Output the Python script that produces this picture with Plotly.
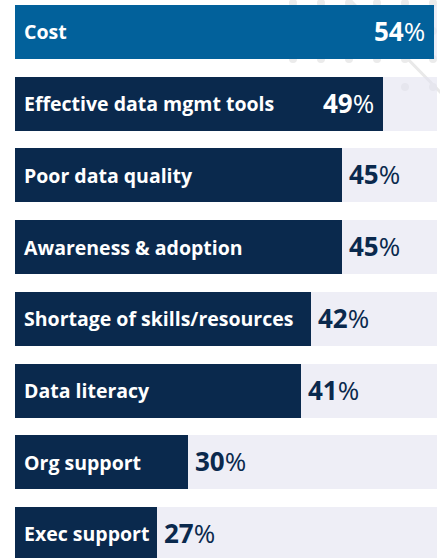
import plotly.graph_objects as go

# ---- data ----
categories = ["Cost", "Effective data mgmt tools", "Poor data quality", "Awareness & adoption",
              "Shortage of skills/resources", "Data literacy", "Org support", "Exec support"]
values = [54, 49, 45, 45, 42, 41, 30, 27]

# ---- styles ----
X_MIN, X_MAX = 13.1, 54.3
HIGHLIGHT = "#02619B"
NAVY = "#0A294D"
TRACK = "rgba(227,227,240,0.6)"
FONT = "Open Sans"

ypos = list(range(len(categories)))
bar_colors = [HIGHLIGHT if i == 0 else NAVY for i in ypos]
value_inside = [i < 2 for i in ypos]

fig = go.Figure()
# background track
fig.add_trace(go.Bar(y=ypos, x=[X_MAX] * len(ypos), orientation="h", width=0.753,
                     marker=dict(color=TRACK, line_width=0), hoverinfo="skip", showlegend=False))
# value bars
fig.add_trace(go.Bar(y=ypos, x=values, orientation="h", width=0.753,
                     marker=dict(color=bar_colors, line_width=0), showlegend=False,
                     hovertemplate="%{customdata}: %{x}%<extra></extra>", customdata=categories))

annotations = []
for i, (c, v) in enumerate(zip(categories, values)):
    annotations.append(dict(x=X_MIN, y=i, xref="x", yref="y", text=f"<b>{c}</b>", showarrow=False,
                            xanchor="left", yanchor="middle", xshift=7,
                            font=dict(family=FONT, size=19.5, color="white")))
    if value_inside[i]:
        annotations.append(dict(x=v, y=i, xref="x", yref="y", text=f"<b>{v}</b>%", showarrow=False,
                                xanchor="right", yanchor="middle", xshift=-7, yshift=1,
                                font=dict(family=FONT, size=26, color="white")))
    else:
        annotations.append(dict(x=v, y=i, xref="x", yref="y", text=f"<b>{v}</b>%", showarrow=False,
                                xanchor="left", yanchor="middle", xshift=5, yshift=1,
                                font=dict(family=FONT, size=26, color=NAVY)))

# faint decorative pattern in the top-right corner (paper coordinates)
W, H, L, R = 440, 558, 15, 3
def px(x):
    return (x - L) / (W - L - R)
def py(y):
    return (H - y) / H

shapes = [dict(type="line", xref="paper", yref="paper", x0=px(348), y0=py(-2), x1=px(442), y1=py(94),
               line=dict(color="#e9e9e9", width=3), layer="below")]
for ry in [3, 31, 59, 87]:
    for cx in [293, 321, 349, 377, 405, 433]:
        shapes.append(dict(type="circle", xref="paper", yref="paper",
                           x0=px(cx - 4), x1=px(cx + 4), y0=py(ry + 4), y1=py(ry - 4),
                           fillcolor="#ebebeb", line_width=0, layer="below"))

fig.update_layout(
    width=W, height=H,
    margin=dict(l=L, r=R, t=0, b=0, pad=0, autoexpand=False),
    paper_bgcolor="white", plot_bgcolor="rgba(0,0,0,0)",
    barmode="overlay", bargap=0,
    xaxis=dict(range=[X_MIN, X_MAX], visible=False, fixedrange=True),
    yaxis=dict(range=[7.336, -0.446], visible=False, fixedrange=True),
    annotations=annotations, shapes=shapes,
    font=dict(family=FONT),
)

fig.write_html("out.html", config={"displayModeBar": False},
               post_script="document.body.style.margin='0';document.body.style.overflow='hidden';")
